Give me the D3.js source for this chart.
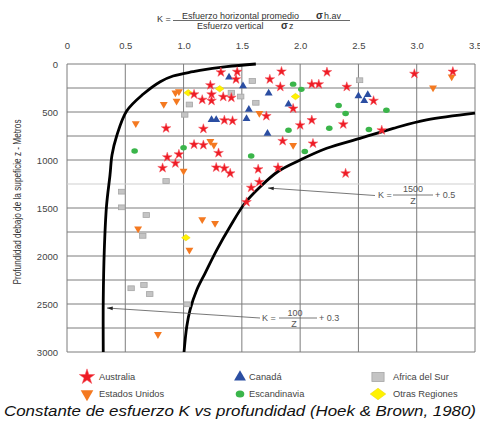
<!DOCTYPE html>
<html><head><meta charset="utf-8">
<script src="https://cdn.jsdelivr.net/npm/d3@7/dist/d3.min.js"></script>
<style>
body{margin:0;background:#fff;}
svg{display:block;}
text{font-family:"Liberation Sans",Arial,sans-serif;}
</style></head>
<body><svg id="c" width="480" height="422"></svg>
<script>
// ---- data (K, depth z in m) ----
const xTicks = [0, 0.5, 1.0, 1.5, 2.0, 2.5, 3.0, 3.5];
const yTicks = [0, 500, 1000, 1500, 2000, 2500, 3000];
const yGrid = [0,250,500,750,1000,1250,1500,1750,2000,2250,2500,2750,3000];

const australia = [[1.32,86],[1.46,81],[1.45,159],[1.23,221],[1.24,316],[1.09,316],[1.34,342],[1.41,351],[1.16,372],[1.24,383],
 [1.71,542],[1.35,586],[1.42,592],[0.85,669],[1.17,675],[1.09,839],[1.17,844],[1.30,927],[0.96,941],[0.86,971],
 [0.93,1034],[0.82,1083],[1.28,1078],[1.35,1086],[1.40,1139],[1.64,1096],[1.65,1229],[1.58,1289],[1.54,1438],[1.74,159],
 [1.84,78],[1.83,238],[2.10,211],[2.16,211],[1.94,464],[2.00,638],[2.10,585],[1.85,802],[2.11,828],[2.23,85],
 [2.40,238],[2.98,102],[3.31,80],[2.63,383],[2.37,628],[2.70,690],[1.81,1080],[2.39,1139]];
const canada = [[1.39,138],[1.51,229],[1.73,305],[1.56,474],[1.90,419],[1.24,581],[1.28,581],[1.54,571],[1.72,724],[2.50,333],[2.58,320],[2.55,383]];
const estadosUnidos = [[0.93,299],[0.96,286],[0.83,419],[0.94,385],[0.59,620],[1.23,804],[1.26,844],[1.00,1115],[1.65,513],[1.94,846],
 [3.14,247],[3.30,132],[1.16,1620],[1.27,1659],[0.61,1716],[1.05,1938],[0.78,2816]];
const escandinavia = [[0.58,906],[1.00,872],[1.58,958],[1.94,210],[2.01,264],[1.90,690],[2.04,911],[2.33,432],[2.39,516],[2.74,481],[2.25,669],[2.59,682]];
const africaSur = [[1.59,177],[1.41,299],[1.49,339],[1.05,422],[1.01,529],[1.62,404],[2.51,169],[0.85,1219],[0.47,1330],[0.47,1493],
 [0.68,1573],[0.65,1790],[0.55,2336],[0.66,2302],[0.71,2396],[1.03,2503]];
const otrasRegiones = [[1.04,300],[1.31,258],[1.96,339],[1.02,1809]];

// curves: K = 100/z + 0.3 and K = 1500/z + 0.5
const curveLow = [[1.62,0],[1.37,28],[1.14,66],[1.08,80],[0.91,125],[0.80,184],[0.655,313],[0.512,490],[0.426,750],[0.386,948],
 [0.369,1156],[0.339,1479],[0.320,1938],[0.311,2458],[0.311,3000]];
const curveHigh = [[1.004,3000],[1.027,2737],[1.055,2563],[1.113,2354],[1.184,2180],[1.284,1938],[1.398,1695],[1.527,1448],
 [1.656,1281],[1.81,1120],[2.0,1000],[2.228,878],[2.514,774],[2.799,670],[3.085,583],[3.5,512]];

const legendItems = [
 {name:"Australia", key:"star"}, {name:"Canadá", key:"tri"}, {name:"Africa del Sur", key:"sq"},
 {name:"Estados Unidos", key:"tridown"}, {name:"Escandinavia", key:"circ"}, {name:"Otras Regiones", key:"dia"}];

// ---- drawing ----
const svg = d3.select("#c");
const x = d3.scaleLinear().domain([0,3.5]).range([67,475]);
const y = d3.scaleLinear().domain([0,3000]).range([64,352]);

const col = {star:"#ee1c25", tri:"#2b4ea2", tridown:"#f47920", circ:"#3ab54a", sq:"#c4c4c4", dia:"#fff200"};

// grid
const g = svg.append("g");
g.selectAll("line.v").data(xTicks).join("line")
 .attr("x1",d=>x(d)).attr("x2",d=>x(d)).attr("y1",y(0)).attr("y2",y(3000))
 .attr("stroke","#7d7d7d").attr("stroke-width",1);
g.selectAll("line.h").data(yGrid).join("line")
 .attr("x1",x(0)).attr("x2",x(3.5)).attr("y1",d=>y(d)).attr("y2",d=>y(d))
 .attr("stroke",d=>d===1250?"#cfcfcf":"#7d7d7d").attr("stroke-width",1);

// axes
const ax = svg.append("g").attr("transform",`translate(0,${y(0)})`)
 .call(d3.axisTop(x).tickValues(xTicks).tickSize(0).tickPadding(15)
   .tickFormat(d=>d===0?"0":d3.format(".1f")(d)));
ax.select(".domain").remove();
ax.selectAll("text").attr("font-size","9.5px").attr("fill","#444").attr("font-family","Liberation Sans, Arial");
const ay = svg.append("g").attr("transform",`translate(${x(0)},0)`)
 .call(d3.axisLeft(y).tickValues(yTicks).tickSize(0).tickPadding(9).tickFormat(d3.format("d")));
ay.select(".domain").remove();
ay.selectAll("text").attr("font-size","9.5px").attr("fill","#444").attr("font-family","Liberation Sans, Arial");

svg.append("text").attr("transform","translate(21,202) rotate(-90)").attr("text-anchor","middle")
 .attr("font-size","10px").attr("fill","#333").attr("textLength",165).attr("lengthAdjust","spacingAndGlyphs")
 .text("Profundidad debajo de la supeficie z - Metros");

// title formula
const tf = svg.append("g").attr("fill","#333").attr("font-size","9px");
tf.append("text").attr("x",157).attr("y",22).text("K =");
tf.append("text").attr("x",182).attr("y",18.5).text("Esfuerzo horizontal promedio");
tf.append("text").attr("x",316).attr("y",18.5).attr("font-weight","bold").attr("font-size","10px").text("σ");
tf.append("text").attr("x",324).attr("y",18.5).text("h.av");
tf.append("line").attr("x1",173).attr("x2",350).attr("y1",20.5).attr("y2",20.5).attr("stroke","#444").attr("stroke-width",0.8);
tf.append("text").attr("x",197).attr("y",28.5).text("Esfuerzo vertical");
tf.append("text").attr("x",281).attr("y",28.5).attr("font-weight","bold").attr("font-size","10px").text("σ");
tf.append("text").attr("x",289).attr("y",28.5).text("z");

// curves
const line = d3.line().x(d=>x(d[0])).y(d=>y(d[1])).curve(d3.curveCatmullRom);
[curveLow, curveHigh].forEach(c=>{
 svg.append("path").datum(c).attr("d",line).attr("fill","none").attr("stroke","#000").attr("stroke-width",2.8);
});

// annotations
const an = svg.append("g").attr("fill","#555").attr("font-size","9px");
function leader(x1,y1,x2,y2){
 an.append("line").attr("x1",x1).attr("y1",y1).attr("x2",x2).attr("y2",y2).attr("stroke","#555").attr("stroke-width",0.8);
 const a = Math.atan2(y1-y2,x1-x2);
 const p = [[x1,y1],[x1-6*Math.cos(a-0.3),y1-6*Math.sin(a-0.3)],[x1-6*Math.cos(a+0.3),y1-6*Math.sin(a+0.3)]];
 an.append("path").attr("d","M"+p.join("L")+"Z").attr("fill","#222");
}
leader(268,188,375,195.5);
an.append("text").attr("x",378).attr("y",198).text("K =");
an.append("line").attr("x1",393).attr("x2",433).attr("y1",195).attr("y2",195).attr("stroke","#555").attr("stroke-width",0.8);
an.append("text").attr("x",413).attr("y",192).attr("text-anchor","middle").text("1500");
an.append("text").attr("x",413).attr("y",203.5).attr("text-anchor","middle").text("Z");
an.append("text").attr("x",435).attr("y",198).text("+ 0.5");
leader(107,308,260,318);
an.append("text").attr("x",262).attr("y",321).text("K =");
an.append("line").attr("x1",279).attr("x2",317).attr("y1",318).attr("y2",318).attr("stroke","#555").attr("stroke-width",0.8);
an.append("text").attr("x",295).attr("y",316).attr("text-anchor","middle").text("100");
an.append("text").attr("x",294).attr("y",326.5).attr("text-anchor","middle").text("Z");
an.append("text").attr("x",319).attr("y",321).text("+ 0.3");

// markers
function marker(sel,key,s){
 s = s||1;
 if(key==="star") sel.append("path").attr("d",d3.symbol(d3.symbolStar,29*s*s)()).attr("fill",col.star).attr("stroke","#f5505a").attr("stroke-width",0.5);
 else if(key==="tri") sel.append("path").attr("d",d3.symbol(d3.symbolTriangle,27*s*s)()).attr("fill",col.tri);
 else if(key==="tridown") sel.append("path").attr("d",d3.symbol(d3.symbolTriangle,27*s*s)()).attr("transform","rotate(180)").attr("fill",col.tridown);
 else if(key==="circ") sel.append("ellipse").attr("rx",3.3*s).attr("ry",2.7*s).attr("fill",col.circ);
 else if(key==="sq") sel.append("rect").attr("x",-3.2*s).attr("y",-2.4*s).attr("width",6.4*s).attr("height",4.8*s).attr("fill",col.sq).attr("stroke","#a6a6a6").attr("stroke-width",0.8);
 else if(key==="dia") sel.append("path").attr("d",`M${-4.3*s},0L0,${-3.2*s}L${4.3*s},0L0,${3.2*s}Z`).attr("fill",col.dia).attr("stroke","#ecd900").attr("stroke-width",0.6);
}
const series = [[africaSur,"sq"],[escandinavia,"circ"],[otrasRegiones,"dia"],[estadosUnidos,"tridown"],[canada,"tri"],[australia,"star"]];
series.forEach(([data,key])=>{
 svg.append("g").selectAll("g").data(data).join("g")
  .attr("transform",d=>`translate(${x(d[0])},${y(d[1])})`)
  .each(function(){ marker(d3.select(this),key); });
});

// legend
const lg = svg.append("g");
const lx = [87,240,378], ly = [377,394];
legendItems.forEach((it,i)=>{
 const cx = lx[i%3], cy = ly[Math.floor(i/3)];
 const m = lg.append("g").attr("transform",`translate(${cx},${cy})`);
 const sc = {star:1.6,tri:1.5,tridown:1.6,circ:1.3,sq:1.9,dia:1.8}[it.key];
 marker(m,it.key,sc);
 lg.append("text").attr("x",cx+(i%3===0?12:(i%3===1?9:15))).attr("y",cy+3.3).attr("font-size","9.3px").attr("fill","#444").text(it.name);
});

// caption
svg.append("text").attr("x",4).attr("y",416).attr("font-family","Open Sans, sans-serif").attr("font-style","italic")
 .attr("font-size","14.5px").attr("fill","#111").attr("textLength",472).attr("lengthAdjust","spacingAndGlyphs")
 .text("Constante de esfuerzo K vs profundidad (Hoek & Brown, 1980)");
</script></body></html>
